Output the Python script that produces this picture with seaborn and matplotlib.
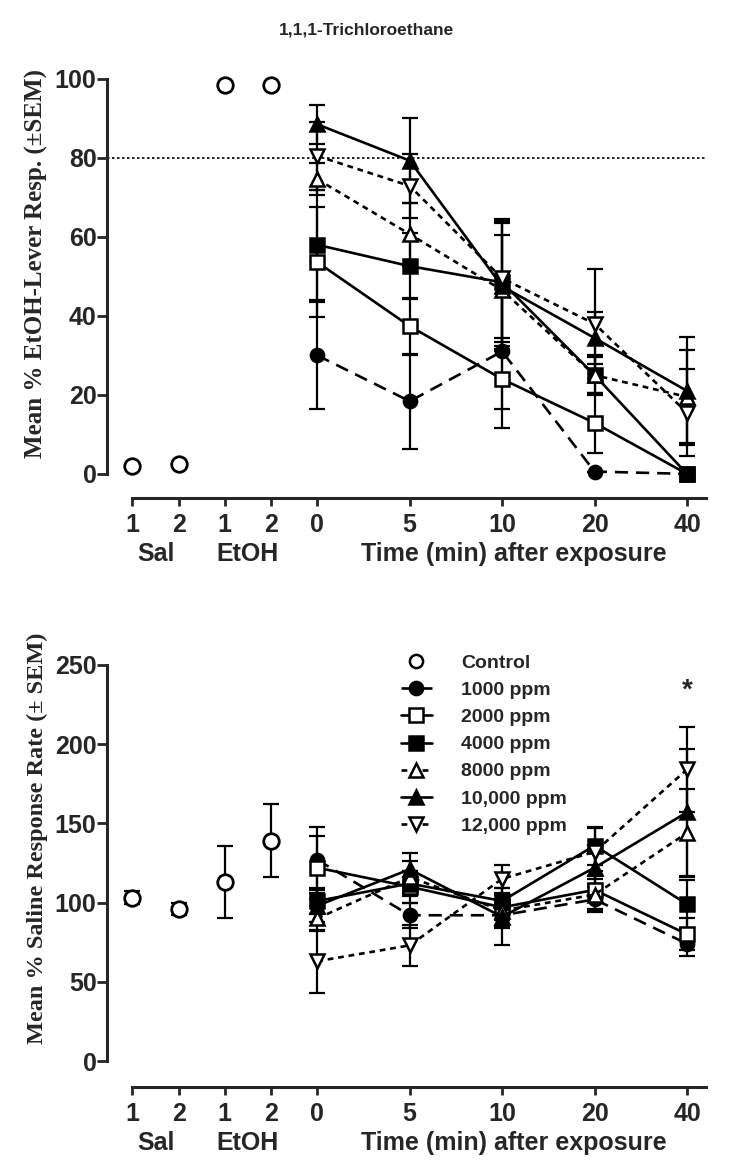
import matplotlib
matplotlib.use("Agg")
import matplotlib.pyplot as plt
from matplotlib.lines import Line2D
import seaborn as sns

# ---- data -------------------------------------------------------------
tick_pos = [0, 1, 2, 3, 4, 6, 8, 10, 12]
tick_labels = ["1", "2", "1", "2", "0", "5", "10", "20", "40"]
ctrl_pos = [0, 1, 2, 3]
time_pos = [4, 6, 8, 10, 12]

doses = ["1000 ppm", "2000 ppm", "4000 ppm", "8000 ppm", "10,000 ppm", "12,000 ppm"]

# top panel: % EtOH-lever responding
ctrl_top = [2, 2.5, 98.5, 98.5]
ctrl_top_sem = [0, 0, 0, 0]
top_1000 = [30, 18.4, 31, 0.6, 0]
top_2000 = [53.6, 37.4, 24, 12.9, 0]
top_4000 = [58, 52.6, 48.5, 25, 0]
top_8000 = [74.6, 60.7, 46.5, 25, 19.5]
top_10000 = [88.5, 79.3, 47.5, 34.4, 21]
top_12000 = [80.5, 72.9, 49.5, 38, 15.5]
top_1000_sem = [13.5, 12, 19.5, 0, 0]
top_2000_sem = [14, 7.2, 7.5, 7.7, 0]
top_4000_sem = [14, 8.4, 15, 5, 0]
top_8000_sem = [4, 8, 14, 4.5, 11.8]
top_10000_sem = [5, 10.7, 16.5, 6.5, 13.6]
top_12000_sem = [8.5, 8, 15, 14, 11]

# bottom panel: % saline response rate
ctrl_bot = [103, 96, 113, 139]
ctrl_bot_sem = [4, 4, 23, 23]
bot_1000 = [127, 92, 92, 102, 74]
bot_2000 = [122, 110, 97, 108, 80]
bot_4000 = [101, 112, 101, 136, 99]
bot_8000 = [90, 116, 95, 105, 144]
bot_10000 = [98, 121, 91, 122, 157]
bot_12000 = [63, 73, 115, 132, 184]
bot_1000_sem = [21, 8, 8, 8, 8]
bot_2000_sem = [20, 10, 8, 12, 10]
bot_4000_sem = [8, 8, 8, 12, 15]
bot_8000_sem = [8, 10, 10, 10, 28]
bot_10000_sem = [10, 10, 18, 10, 40]
bot_12000_sem = [20, 13, 9, 15, 27]

# ---- style -------------------------------------------------------------
sns.set_style("ticks")
plt.rcParams["font.family"] = ["Liberation Sans", "DejaVu Sans"]
plt.rcParams["font.weight"] = "bold"

markers = ["o", "s", "s", "^", "^", "v"]
filled = [True, False, True, False, True, False]
dash_styles = [(0, (5, 3)), "-", "-", (0, (2.2, 1.8)), "-", (0, (2.2, 1.8))]

LW = 1.9
MS = 9.5
FS = 18


def draw_panel(ax, ctrl, ctrl_sem, series, sems, yticks):
    # control points (no connecting line)
    ax.errorbar(ctrl_pos, ctrl, yerr=ctrl_sem, fmt="none", ecolor="k",
                elinewidth=1.6, capsize=6, capthick=1.6, zorder=2)
    sns.scatterplot(x=ctrl_pos, y=ctrl, marker="o", s=125, facecolor="white",
                    edgecolor="k", linewidth=2, ax=ax, zorder=5, clip_on=False)
    for vals, sem, m, f, ls in zip(series, sems, markers, filled, dash_styles):
        ax.errorbar(time_pos, vals, yerr=sem, fmt="none", ecolor="k",
                    elinewidth=1.6, capsize=6, capthick=1.6, zorder=2)
        sns.lineplot(x=time_pos, y=vals, color="k", linestyle=ls, linewidth=LW,
                     marker=m, markersize=MS, markeredgecolor="k",
                     markeredgewidth=1.8,
                     markerfacecolor="k" if f else "white",
                     errorbar=None, ax=ax, zorder=4, clip_on=False)
    ax.set_xlim(-0.55, 12.4)
    ax.set_xticks(tick_pos)
    ax.set_xticklabels(tick_labels)
    ax.set_yticks(yticks)
    ax.tick_params(axis="both", labelsize=FS, width=2, length=6, direction="out")
    ax.tick_params(axis="y", pad=0.5, length=7)
    ax.tick_params(axis="x", pad=5)
    for lab in ax.get_xticklabels() + ax.get_yticklabels():
        lab.set_fontweight("bold")
    sns.despine(ax=ax)
    ax.spines["left"].set_linewidth(2.2)
    ax.spines["bottom"].set_linewidth(2.2)
    ax.spines["left"].set_bounds(yticks[0], yticks[-1])
    ax.spines["bottom"].set_bounds(0, 12.4)
    # second row of x labels
    for x, txt in [(0.5, "Sal"), (2.5, "EtOH"), (8.26, "Time (min) after exposure")]:
        ax.annotate(txt, xy=(x, 0), xycoords=("data", "axes fraction"),
                    xytext=(0, -40), textcoords="offset points",
                    ha="center", va="center", fontsize=FS, fontweight="bold")


fig = plt.figure(figsize=(7.29, 11.71), dpi=100)
ax1 = fig.add_axes([107 / 729, 1 - 498 / 1171, 598.5 / 729, 427 / 1171])
ax2 = fig.add_axes([107 / 729, 1 - 1087 / 1171, 598.5 / 729, 430 / 1171])

draw_panel(ax1, ctrl_top, ctrl_top_sem,
           [top_1000, top_2000, top_4000, top_8000, top_10000, top_12000],
           [top_1000_sem, top_2000_sem, top_4000_sem, top_8000_sem, top_10000_sem, top_12000_sem],
           [0, 20, 40, 60, 80, 100])
ax1.set_ylim(-6.1, 102)
ax1.axhline(80, color="k", linestyle=(0, (1.5, 1.5)), linewidth=1.2, zorder=1)
ax1.set_ylabel("Mean % EtOH-Lever Resp. (\u00b1SEM)", family=["Liberation Serif"],
               fontsize=18, fontweight="bold")
ax1.yaxis.set_label_coords(-0.099, 0.55)
fig.text(367 / 729, 1 - 30 / 1171, "1,1,1-Trichloroethane", ha="center", va="center",
         fontsize=12.5, fontweight="bold")

draw_panel(ax2, ctrl_bot, ctrl_bot_sem,
           [bot_1000, bot_2000, bot_4000, bot_8000, bot_10000, bot_12000],
           [bot_1000_sem, bot_2000_sem, bot_4000_sem, bot_8000_sem, bot_10000_sem, bot_12000_sem],
           [0, 50, 100, 150, 200, 250])
ax2.set_ylim(-16.4, 255)
ax2.set_ylabel("Mean % Saline Response Rate (\u00b1 SEM)", family=["Liberation Serif"],
               fontsize=17.5, fontweight="bold")
ax2.yaxis.set_label_coords(-0.099, 0.579)
ax2.text(12, 234, "*", ha="center", va="center", fontsize=20, fontweight="bold")

# legend
handles = [Line2D([], [], color="k", linestyle="none", marker="o", markersize=MS,
                  markerfacecolor="white", markeredgewidth=1.8)]
for m, f, ls in zip(markers, filled, dash_styles):
    handles.append(Line2D([], [], color="k", linestyle=ls, linewidth=LW, marker=m,
                          markersize=MS, markeredgewidth=1.8,
                          markerfacecolor="k" if f else "white"))
ax2.legend(handles, ["Control"] + doses, loc="upper left",
           bbox_to_anchor=((383 - 107) / 598.5, 1.047), frameon=False,
           handlelength=1.6, handletextpad=1.5, labelspacing=0.49,
           prop={"size": 14, "weight": "bold"})

fig.savefig("out.png", dpi=100)
